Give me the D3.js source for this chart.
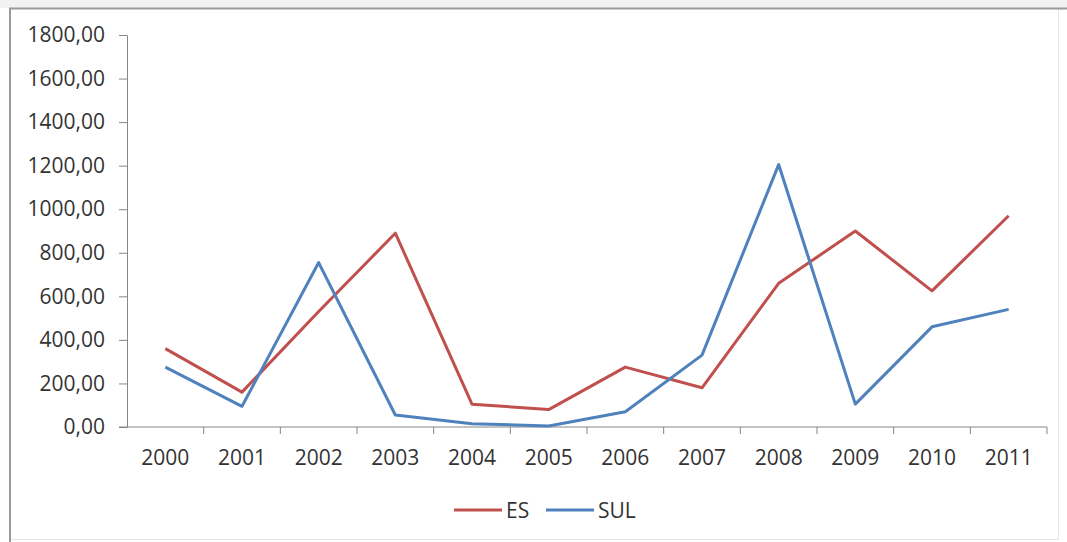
<!DOCTYPE html>
<html>
<head>
<meta charset="utf-8">
<script src="https://cdn.jsdelivr.net/npm/d3@7"></script>
<style>
  html, body { margin: 0; padding: 0; background: #ffffff; }
  svg { display: block; }
  text { font-family: "Open Sans", "Liberation Sans", sans-serif; fill: #333333; }
</style>
</head>
<body>
<svg id="chart" width="1067" height="542"></svg>
<script>
// Years on the category axis
const years = ["2000","2001","2002","2003","2004","2005","2006","2007","2008","2009","2010","2011"];
// Series values per year
const esValues  = [360, 160, 530, 890, 105, 80, 275, 180, 660, 900, 625, 970];
const sulValues = [275, 95, 755, 55, 15, 5, 70, 330, 1205, 105, 460, 540];
// Value axis ticks
const yTicks = [0, 200, 400, 600, 800, 1000, 1200, 1400, 1600, 1800];

const seriesNames  = ["ES", "SUL"];
const seriesColors = ["#c0504d", "#4f81bd"];
const series = [esValues, sulValues];

const svg = d3.select("#chart");

// Light strip above the chart frame
svg.append("rect").attr("x", 0).attr("y", 0).attr("width", 1067).attr("height", 8)
  .attr("fill", "#f2f2f2");

// Chart frame: darker left/top, faint right/bottom
svg.append("rect").attr("x", 9.5).attr("y", 8.5).attr("width", 1049).attr("height", 531)
  .attr("fill", "#ffffff").attr("stroke", "#e6e6e6").attr("stroke-width", 1);
svg.append("path").attr("d", "M10,542 L10,8.5 L1067,8.5")
  .attr("fill", "none").attr("stroke", "#9a9a9a").attr("stroke-width", 2);

const x = d3.scaleBand().domain(years).range([127, 1047]).padding(0);
const y = d3.scaleLinear().domain([0, 1800]).range([427, 35]);

const ptLocale = d3.formatLocale({ decimal: ",", thousands: "", grouping: [3], currency: ["R$", ""] });
const fmt = ptLocale.format(".2f");

// Value axis
const yAxis = svg.append("g").attr("transform", "translate(127,0)")
  .call(d3.axisLeft(y).tickValues(yTicks).tickFormat(fmt).tickSize(8).tickSizeOuter(0).tickPadding(14));
yAxis.select(".domain").attr("stroke", "#868686");
yAxis.selectAll(".tick line").attr("stroke", "#868686");
yAxis.selectAll(".tick text").style("font-size", "21px").attr("fill", "#333333");

// Category axis with tick marks between categories
const xAxis = svg.append("g").attr("transform", "translate(0,427)")
  .call(d3.axisBottom(x).tickSize(0).tickPadding(23));
xAxis.select(".domain").remove();
xAxis.selectAll(".tick text").style("font-size", "21px").attr("fill", "#333333");
xAxis.append("line").attr("x1", 119).attr("x2", 1047).attr("y1", 0).attr("y2", 0)
  .attr("stroke", "#868686");
const bounds = years.map(d => x(d) + x.bandwidth()).concat([x(years[0])]);
xAxis.selectAll("line.sep").data(bounds.slice(0, -1)).join("line").attr("class", "sep")
  .attr("x1", d => d).attr("x2", d => d).attr("y1", 0).attr("y2", 7)
  .attr("stroke", "#868686");

// Series lines
const line = d3.line()
  .x((d, i) => x(years[i]) + x.bandwidth() / 2)
  .y(d => y(d));

series.forEach((vals, k) => {
  svg.append("path").datum(vals)
    .attr("d", line)
    .attr("fill", "none")
    .attr("stroke", seriesColors[k])
    .attr("stroke-width", 3)
    .attr("stroke-linejoin", "round");
});

// Legend
const legend = svg.append("g").attr("transform", "translate(454,510)");
const legendX = [0, 92];
seriesNames.forEach((name, k) => {
  const g = legend.append("g").attr("transform", `translate(${legendX[k]},0)`);
  g.append("line").attr("x1", 0).attr("x2", 48).attr("y1", 0).attr("y2", 0)
    .attr("stroke", seriesColors[k]).attr("stroke-width", 3);
  g.append("text").attr("x", 52).attr("y", 7.5).style("font-size", "21px").text(name);
});
</script>
</body>
</html>
